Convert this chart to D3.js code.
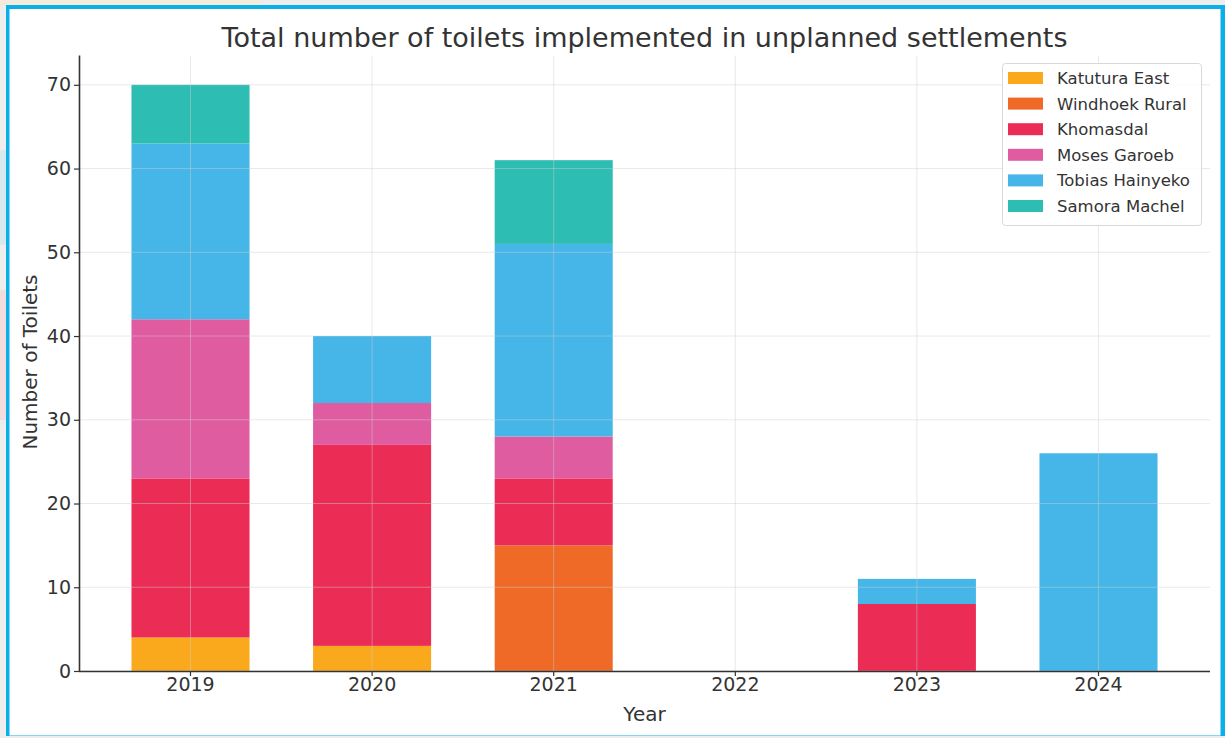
<!DOCTYPE html>
<html><head><meta charset="utf-8">
<script src="https://cdn.jsdelivr.net/npm/d3@7"></script>
<style>html,body{margin:0;padding:0;background:#ededed;}svg{display:block;}</style>
</head><body>
<svg id="c" width="1225" height="738"></svg>
<script>
const years = ["2019","2020","2021","2022","2023","2024"];
const settlements = ["Katutura East","Windhoek Rural","Khomasdal","Moses Garoeb","Tobias Hainyeko","Samora Machel"];
const colors = ["#F9A91B","#EE6A26","#EB2D55","#DF5CA1","#46B6E8","#2DBDB2"];
const katuturaEast   = [4, 3, 0, 0, 0, 0];
const windhoekRural  = [0, 0, 15, 0, 0, 0];
const khomasdal      = [19, 24, 8, 0, 8, 0];
const mosesGaroeb    = [19, 5, 5, 0, 0, 0];
const tobiasHainyeko = [21, 8, 23, 0, 3, 26];
const samoraMachel   = [7, 0, 10, 0, 0, 0];
const yTicks = [0,10,20,30,40,50,60,70];

(function(){
const seriesVals = [katuturaEast, windhoekRural, khomasdal, mosesGaroeb, tobiasHainyeko, samoraMachel];
const table = years.map((y,i)=>{const o={year:y}; settlements.forEach((s,j)=>o[s]=seriesVals[j][i]); return o;});
const stacked = d3.stack().keys(settlements)(table);

const svg = d3.select("#c");
// background frame
svg.append("rect").attr("x",0).attr("y",0).attr("width",260).attr("height",6).attr("fill","#f3ecdc");
svg.append("rect").attr("x",0).attr("y",150).attr("width",6).attr("height",95).attr("fill","#d6e9f0");
svg.append("rect").attr("x",0).attr("y",290).attr("width",6).attr("height",130).attr("fill","#f3dcdc");
svg.append("rect").attr("x",6).attr("y",5).attr("width",1219).attr("height",731).attr("fill","#0AAFEA");
svg.append("rect").attr("x",9.5).attr("y",9).attr("width",1211).attr("height",726.5).attr("fill","#ffffff");

const pL=79,pR=1210,pT=55.5,pB=671;
const x = d3.scaleBand().domain(years).range([pL,pR]).paddingInner(0.35).paddingOuter(0.289);
const y = d3.scaleLinear().domain([0,73.5]).range([pB,pT]);

// bars
svg.append("g").selectAll("g").data(stacked).join("g")
  .attr("fill",(d,i)=>colors[i])
  .selectAll("rect").data(d=>d.filter(p=>p[1]-p[0]>0)).join("rect")
  .attr("x",d=>x(d.data.year)).attr("width",x.bandwidth())
  .attr("y",d=>y(d[1])).attr("height",d=>y(d[0])-y(d[1]));

// grid (on top, faint)
const grid = svg.append("g").attr("stroke","#cfcfcf").attr("stroke-opacity",0.45).attr("stroke-width",1);
yTicks.forEach(t=>grid.append("line").attr("x1",pL).attr("x2",pR).attr("y1",y(t)).attr("y2",y(t)));
years.forEach(yr=>grid.append("line").attr("y1",pT).attr("y2",pB)
  .attr("x1",x(yr)+x.bandwidth()/2).attr("x2",x(yr)+x.bandwidth()/2));

// axes
const font = "DejaVu Sans, sans-serif";
const yAxis = svg.append("g").attr("transform",`translate(${pL},0)`)
  .call(d3.axisLeft(y).tickValues(yTicks).tickSize(5).tickPadding(3));
const xAxis = svg.append("g").attr("transform",`translate(0,${pB})`)
  .call(d3.axisBottom(x).tickSize(5).tickPadding(2));
[yAxis,xAxis].forEach(a=>{
  a.select(".domain").attr("stroke","#333").attr("stroke-width",1.6);
  a.selectAll(".tick line").attr("stroke","#333").attr("stroke-width",1.2);
  a.selectAll(".tick text").attr("fill","#333").style("font-family",font).style("font-size","19px");
});
xAxis.select(".domain").attr("d",`M${pL},0.5H${pR}`);
yAxis.select(".domain").attr("d",`M0.5,${pB}V${pT}`);

// titles
svg.append("text").attr("x",(pL+pR)/2).attr("y",47).attr("text-anchor","middle")
  .attr("fill","#333").style("font-family",font).style("font-size","27px")
  .text("Total number of toilets implemented in unplanned settlements");
svg.append("text").attr("x",(pL+pR)/2).attr("y",721).attr("text-anchor","middle")
  .attr("fill","#333").style("font-family",font).style("font-size","20px").text("Year");
svg.append("text").attr("transform","translate(37,362) rotate(-90)").attr("text-anchor","middle")
  .attr("fill","#333").style("font-family",font).style("font-size","20px").text("Number of Toilets");

// legend
const lg = svg.append("g").attr("transform","translate(1002,63)");
lg.append("rect").attr("x",0.5).attr("y",0.5).attr("width",199).attr("height",162).attr("rx",3)
  .attr("fill","#fff").attr("fill-opacity",0.85).attr("stroke","#d8d8d8");
settlements.forEach((s,i)=>{
  const gy = 15 + i*25.6;
  lg.append("rect").attr("x",6).attr("y",gy-6).attr("width",35).attr("height",12).attr("fill",colors[i]);
  lg.append("text").attr("x",55).attr("y",gy+6).attr("fill","#333")
    .style("font-family",font).style("font-size","16.5px").text(s);
});
})();
</script>
</body></html>
